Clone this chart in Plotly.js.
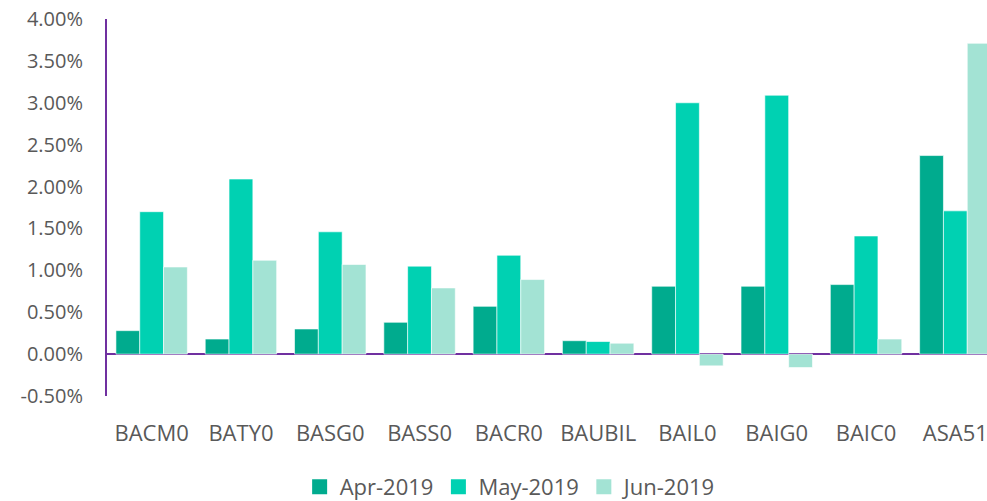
<!DOCTYPE html>
<html>
<head>
<meta charset="utf-8">
<script src="https://cdn.plot.ly/plotly-3.0.1.min.js"></script>
<style>
html,body{margin:0;padding:0;background:#fff;overflow:hidden;width:987px;height:501px;}
#chart{width:1000px;height:501px;}
</style>
</head>
<body>
<div id="chart"></div>
<script>
const categories = ["BACM0","BATY0","BASG0","BASS0","BACR0","BAUBIL","BAIL0","BAIG0","BAIC0","ASA51"];
const seriesNames = ["Apr-2019","May-2019","Jun-2019"];
const apr2019 = [0.28, 0.18, 0.30, 0.38, 0.57, 0.16, 0.81, 0.81, 0.83, 2.37];
const may2019 = [1.70, 2.09, 1.46, 1.05, 1.18, 0.15, 3.00, 3.09, 1.41, 1.71];
const jun2019 = [1.04, 1.12, 1.07, 0.79, 0.89, 0.13, -0.14, -0.16, 0.18, 3.71];
const yTickVals = [-0.5, 0, 0.5, 1, 1.5, 2, 2.5, 3, 3.5, 4];
const yTickText = ["-0.50%","0.00%","0.50%","1.00%","1.50%","2.00%","2.50%","3.00%","3.50%","4.00%"];

const colors = ["#00AB8E", "#00D1B2", "#A3E3D4"];
const allSeries = [apr2019, may2019, jun2019];
const font = "'Open Sans', 'Noto Sans', sans-serif";

const traces = allSeries.map((vals, i) => ({
  type: "bar",
  name: seriesNames[i],
  x: categories,
  y: vals,
  showlegend: false,
  marker: {color: colors[i], line: {color: "rgba(255,255,255,0.6)", width: 1}},
  hoverinfo: "none"
}));
// legend entries (square swatches)
seriesNames.forEach((name, i) => {
  traces.push({
    type: "scatter",
    mode: "markers",
    name: name,
    x: [null],
    y: [null],
    marker: {symbol: "square", size: 15, color: colors[i]},
    showlegend: true,
    hoverinfo: "none"
  });
});

const layout = {
  width: 1000,
  height: 501,
  margin: {l: 107, r: 0, t: 19, b: 105, autoexpand: false},
  paper_bgcolor: "#fff",
  plot_bgcolor: "#fff",
  barmode: "group",
  bargap: 0.2,
  bargroupgap: 0,
  font: {family: font, color: "#595959"},
  xaxis: {
    type: "category",
    range: [-0.5, 9.5],
    showline: false,
    showgrid: false,
    zeroline: false,
    ticks: "",
    ticklabelstandoff: 22,
    automargin: false,
    tickfont: {size: 22, color: "#595959", family: font}
  },
  yaxis: {
    range: [-0.5, 4.0],
    tickvals: yTickVals,
    ticktext: yTickText,
    showgrid: false,
    showline: true,
    linecolor: "#7030A0",
    linewidth: 2,
    zeroline: true,
    zerolinecolor: "#7030A0",
    zerolinewidth: 2,
    ticks: "",
    automargin: false,
    ticklabelstandoff: 18,
    tickfont: {size: 20, color: "#595959", family: font}
  },
  showlegend: true,
  legend: {
    orientation: "h",
    x: 0.452,
    xanchor: "center",
    y: -0.241,
    yanchor: "middle",
    font: {size: 22, color: "#595959", family: font},
    itemwidth: 30,
    traceorder: "normal"
  }
};

Plotly.newPlot("chart", traces, layout, {displayModeBar: false, staticPlot: true});
</script>
</body>
</html>
